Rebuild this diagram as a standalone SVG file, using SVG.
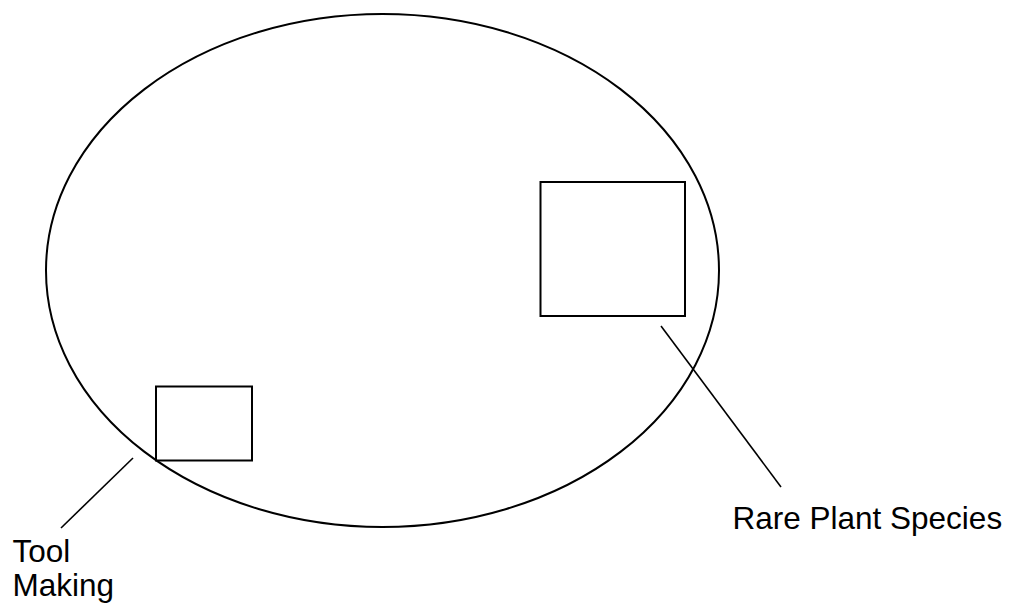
<svg xmlns="http://www.w3.org/2000/svg" width="1011" height="606" viewBox="0 0 1011 606">
<style>
.shape{fill:none;stroke:#000;stroke-width:2}
.conn{stroke:#000;stroke-width:1.6;fill:none}
.lbl{font-family:"Liberation Sans",Arial,sans-serif;font-size:31.5px;fill:#000}
</style>
<rect width="1011" height="606" fill="#fff"/>
<g id="region">
<ellipse class="shape" cx="382.5" cy="270.5" rx="336.5" ry="256.5"/>
</g>
<g id="rare-plant-species">
<rect class="shape" x="540.5" y="182" width="144.5" height="134"/>
<text class="lbl" x="732.5" y="529">Rare Plant Species</text>
</g>
<g id="tool-making">
<rect class="shape" x="156" y="386.5" width="96" height="74"/>
<text class="lbl" x="12.5" y="562">Tool</text>
<text class="lbl" x="12.5" y="596">Making</text>
</g>
<g id="connectors">
<line class="conn" x1="661" y1="326" x2="781" y2="487"/>
<line class="conn" x1="133" y1="458" x2="61" y2="528"/>
</g>
</svg>
